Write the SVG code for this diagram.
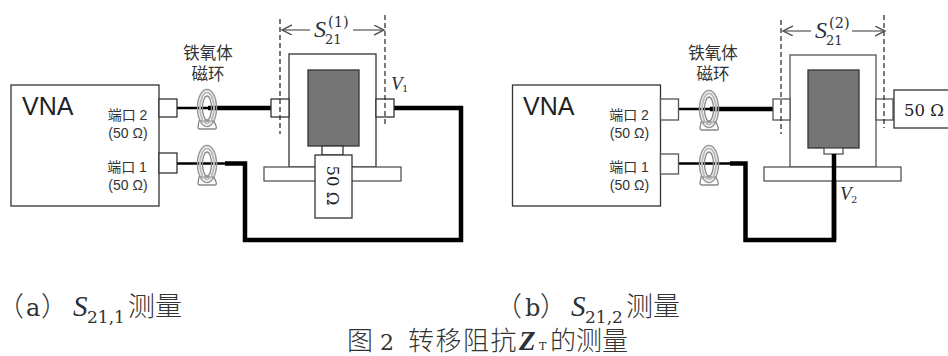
<svg xmlns="http://www.w3.org/2000/svg" width="948" height="356" viewBox="0 0 948 356">
<style>
.box{fill:#fff;stroke:#333;stroke-width:1.3}
.gbox{fill:#fff;stroke:#555;stroke-width:1.3}
.core{fill:#757575;stroke:#333;stroke-width:1.3}
.w{fill:none;stroke:#000;stroke-linejoin:miter}
.dash{fill:none;stroke:#222;stroke-width:1.2;stroke-dasharray:5 3}
.dim{fill:none;stroke:#777;stroke-width:1.5;marker-end:url(#ah)}
text{font-family:"Liberation Sans","Noto Sans CJK SC",sans-serif;fill:#222}
.cn{font-size:14px;text-anchor:middle;fill:#333}
.ttl{font-size:16.5px;text-anchor:middle;fill:#333}
.vna{font-size:25px;fill:#222}
.m{font-family:"Liberation Serif","Noto Sans CJK SC",serif;font-style:italic;fill:#2a3038}
.d{font-family:"DejaVu Serif",serif;fill:#2a3038}
.om{font-family:"DejaVu Serif",serif;font-size:16.5px;fill:#222}
.cap{font-family:"DejaVu Serif",serif;fill:#333}
.capc{font-family:"Noto Sans CJK SC",sans-serif;font-size:27px;font-weight:300;fill:#333}
</style>
<defs>
<marker id="ah" markerWidth="12" markerHeight="12" refX="10" refY="5" orient="auto" markerUnits="userSpaceOnUse"><path d="M0 0L10 5L0 10" fill="none" stroke="#555" stroke-width="1.4"/></marker>
<g id="ring">
<path d="M-8 13L-9 19Q-9 21-7 21L8 21Q10 21 9 18L7 13Z" fill="#fff" stroke="#888" stroke-width="1.3"/>
<ellipse rx="9.500" ry="18.500" fill="#fff" fill-opacity="0" stroke="#999" stroke-width="1.5"/>
<ellipse rx="7" ry="15.500" fill="none" stroke="#bbb" stroke-width="2"/>
<ellipse rx="4.500" ry="12" fill="none" stroke="#888" stroke-width="1.3"/>
</g>
</defs>
<rect width="948" height="356" fill="#fff"/>

<g id="connectors">
<path class="w" stroke-width="2.5" d="M177 108H208"/>
<path class="w" stroke-width="4.5" d="M208 108H271"/>
<path class="w" stroke-width="2.5" d="M177 163.500H225"/>
<path class="w" stroke-width="4.5" d="M394 108H461V240H245V163.500H225"/>
<path class="w" stroke-width="2.5" d="M679 109H710"/>
<path class="w" stroke-width="4.5" d="M710 109H773"/>
<path class="w" stroke-width="2.5" d="M679 163.500H730"/>
<path class="w" stroke-width="4.5" d="M730 163.500H745.500V240H834V154"/>
</g>

<g id="vna-a">
<rect class="box" x="11" y="85" width="148" height="121"/>
<text class="vna" x="22" y="115">VNA</text>
<text class="cn" x="127.500" y="120">端口 2</text>
<text class="cn" x="128" y="138">(50 Ω)</text>
<text class="cn" x="127" y="172">端口 1</text>
<text class="cn" x="128" y="190">(50 Ω)</text>
</g>
<g id="port2-a"><rect class="box" x="159" y="99" width="18" height="18"/></g>
<g id="port1-a"><rect class="box" x="159" y="153" width="18" height="20"/></g>
<g id="ferrite-a">
<text class="ttl" x="208" y="59">铁氧体</text>
<text class="ttl" x="208" y="80">磁环</text>
<use href="#ring" x="207" y="108"/>
<use href="#ring" x="207" y="164"/>
</g>
<g id="dut-a">
<rect class="box" x="289" y="54" width="87" height="113"/>
<rect class="core" x="308" y="70" width="51" height="76"/>
<rect class="box" x="271" y="99" width="18" height="18"/>
<rect class="box" x="376" y="99" width="18" height="18"/>
<rect class="gbox" x="264" y="167" width="137" height="14"/>
<rect class="box" x="322" y="146" width="21" height="9"/>
</g>
<g id="load-a">
<rect class="box" x="315" y="155" width="37" height="63"/>
<text class="om" transform="translate(326.500 185.500) rotate(90)" text-anchor="middle">50 Ω</text>
</g>
<g id="dim-a">
<path class="dash" d="M280 19V134"/>
<path class="dash" d="M385 15V127"/>
<path class="dim" d="M310 30H282"/>
<path class="dim" d="M353 30H384"/>
<text class="m" x="314" y="37" font-size="24">S</text>
<text class="d" x="325" y="44" font-size="13">21</text>
<text class="d" x="328" y="27" font-size="14.500">(1)</text>
<text class="m" x="391" y="90" font-size="19">V</text>
<text class="d" x="402" y="92" font-size="10">1</text>
</g>

<g id="vna-b">
<rect class="box" x="512.500" y="85" width="148" height="121"/>
<text class="vna" x="523" y="115">VNA</text>
<text class="cn" x="629" y="120">端口 2</text>
<text class="cn" x="629.500" y="138">(50 Ω)</text>
<text class="cn" x="629" y="172">端口 1</text>
<text class="cn" x="629.500" y="190">(50 Ω)</text>
</g>
<g id="port2-b"><rect class="gbox" x="660.500" y="99" width="18" height="21"/></g>
<g id="port1-b"><rect class="gbox" x="660.500" y="154" width="18" height="20"/></g>
<g id="ferrite-b">
<text class="ttl" x="713" y="59">铁氧体</text>
<text class="ttl" x="713" y="80">磁环</text>
<use href="#ring" x="709" y="109"/>
<use href="#ring" x="709" y="164"/>
</g>
<g id="dut-b">
<rect class="gbox" x="790" y="55" width="86" height="112"/>
<rect class="core" x="808" y="70" width="51" height="78"/>
<rect class="gbox" x="773" y="99" width="17" height="21"/>
<rect class="gbox" x="876" y="99" width="17" height="21"/>
<rect class="gbox" x="764" y="167" width="137" height="14"/>
<rect class="gbox" x="824" y="148" width="19" height="6"/>
<path class="w" stroke-width="4.500" d="M834 154V240"/>
</g>
<g id="load-b">
<rect class="box" x="894" y="90" width="60" height="38"/>
<text class="om" x="904" y="116">50 Ω</text>
</g>
<g id="dim-b">
<path class="dash" d="M781 20V134"/>
<path class="dash" d="M884 15V128"/>
<path class="dim" d="M811 31H783"/>
<path class="dim" d="M852 31H885"/>
<text class="m" x="815" y="38" font-size="24">S</text>
<text class="d" x="826" y="45" font-size="13">21</text>
<text class="d" x="829" y="28" font-size="14.500">(2)</text>
<text class="m" x="840" y="200" font-size="19">V</text>
<text class="d" x="851" y="203" font-size="10">2</text>
</g>

<g id="captions">
<text class="capc" x="-3" y="316">（<tspan class="cap" x="26" font-size="24">a</tspan><tspan x="41">）</tspan><tspan class="m" x="73" font-size="29">S</tspan><tspan class="cap" x="87" y="323" font-size="17">21,1</tspan><tspan x="128" y="316">测量</tspan></text>
<text class="capc" x="495" y="316">（<tspan class="cap" x="525" font-size="24">b</tspan><tspan x="540">）</tspan><tspan class="m" x="571" font-size="29">S</tspan><tspan class="cap" x="585" y="323" font-size="17">21,2</tspan><tspan x="626" y="316">测量</tspan></text>
<text class="capc" x="347" y="350" style="font-size:26px">图<tspan class="cap" x="380" font-size="22">2</tspan><tspan x="408" letter-spacing="1.500">转移阻抗</tspan><tspan class="m" x="519" font-size="27" font-weight="bold">Z</tspan><tspan class="cap" x="539" font-size="11">T</tspan><tspan x="550">的测量</tspan></text>
</g>
</svg>
